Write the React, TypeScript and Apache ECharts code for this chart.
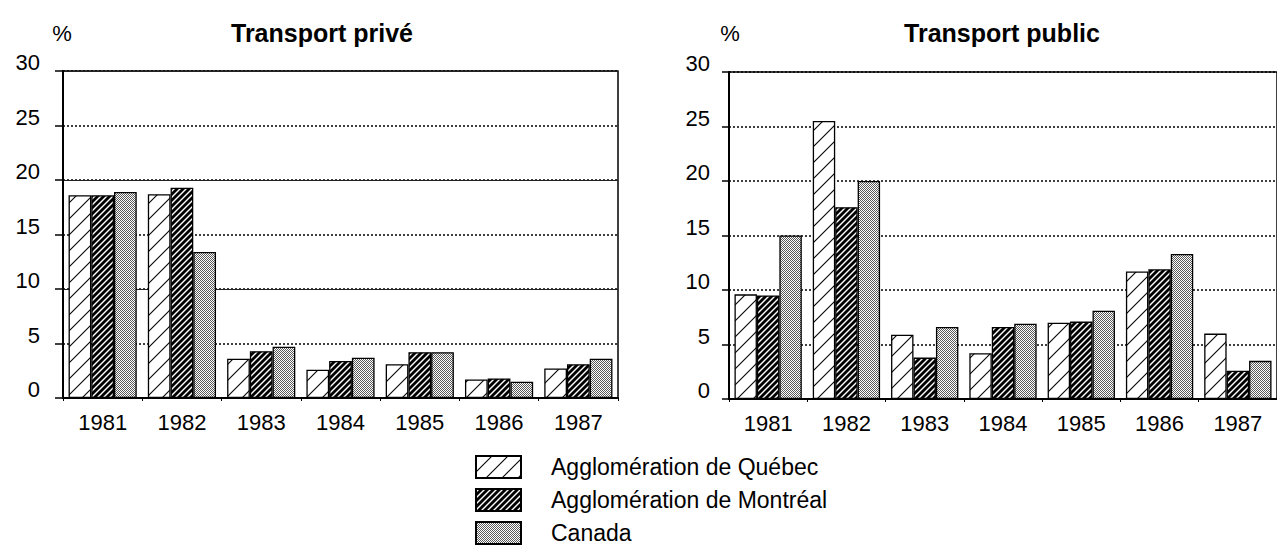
import React, { useEffect, useRef } from "react";
import * as echarts from "echarts";

const years = ["1981", "1982", "1983", "1984", "1985", "1986", "1987"];
const seriesNames = ["Agglomération de Québec", "Agglomération de Montréal", "Canada"];

const priveQuebec = [18.6, 18.7, 3.6, 2.6, 3.1, 1.7, 2.7];
const priveMontreal = [18.6, 19.3, 4.3, 3.4, 4.2, 1.8, 3.1];
const priveCanada = [18.9, 13.4, 4.7, 3.7, 4.2, 1.5, 3.6];

const publicQuebec = [9.6, 25.5, 5.9, 4.2, 7.0, 11.7, 6.0];
const publicMontreal = [9.5, 17.6, 3.8, 6.6, 7.1, 11.9, 2.6];
const publicCanada = [15.0, 20.0, 6.6, 6.9, 8.1, 13.3, 3.5];

const titles = ["Transport privé", "Transport public"];
const unitLabel = "%";
const yMin = 0;
const yMax = 30;
const yStep = 5;

const FONT = "'Liberation Sans', Arial, Helvetica, sans-serif";

function makePattern(kind: string) {
  const c = document.createElement("canvas");
  let w = 2, h = 2;
  if (kind === "q") { w = 16; h = 16; }
  if (kind === "m") { w = 6; h = 6; }
  c.width = w; c.height = h;
  const ctx = c.getContext("2d")!;
  ctx.fillStyle = "#fff";
  ctx.fillRect(0, 0, w, h);
  if (kind === "q") {
    ctx.strokeStyle = "#000";
    ctx.lineWidth = 1.1;
    for (const k of [0, 16, 32]) {
      ctx.beginPath();
      ctx.moveTo(k - 18, 18);
      ctx.lineTo(k + 2, -2);
      ctx.stroke();
    }
  } else if (kind === "m") {
    ctx.strokeStyle = "#000";
    ctx.lineWidth = 2.8;
    for (const k of [0, 6, 12]) {
      ctx.beginPath();
      ctx.moveTo(k - 7, 7);
      ctx.lineTo(k + 1, -1);
      ctx.stroke();
    }
  } else {
    ctx.fillStyle = "#5a5a5a";
    ctx.fillRect(0, 0, 1, 1);
    ctx.fillRect(1, 1, 1, 1);
  }
  return { image: c.toDataURL(), repeat: "repeat", imageWidth: w, imageHeight: h } as any;
}

export default function App() {
  const ref = useRef<HTMLDivElement>(null);
  useEffect(() => {
    if (!ref.current) return;
    const chart = echarts.init(ref.current, null, { renderer: "svg" });
    const pats = [makePattern("q"), makePattern("m"), makePattern("c")];
    const priveData = [priveQuebec, priveMontreal, priveCanada];
    const publicData = [publicQuebec, publicMontreal, publicCanada];

    const xAxisBase = (gridIndex: number) => ({
      gridIndex,
      type: "category",
      data: years,
      axisLine: { lineStyle: { color: "#000", width: 2 } },
      axisTick: { show: true, length: 3, lineStyle: { color: "#000" } },
      axisLabel: { color: "#000", fontFamily: FONT, fontSize: 22, margin: 13 },
      splitLine: { show: false },
    });

    const yLabel = (margin: number) => ({
      color: "#000",
      fontFamily: FONT,
      fontSize: 22,
      margin,
      verticalAlign: "bottom",
      lineHeight: 17,
    });

    const barSeries = (data: number[][], axisIdx: number, yIdx: number) =>
      data.map((vals, i) => ({
        name: seriesNames[i],
        type: "bar",
        xAxisIndex: axisIdx,
        yAxisIndex: yIdx,
        data: vals,
        barGap: "0%",
        barCategoryGap: "14%",
        itemStyle: { color: pats[i], borderColor: "#000", borderWidth: 1.3 },
      }));

    chart.setOption({
      animation: false,
      backgroundColor: "#fff",
      grid: [
        { left: 63, top: 71, width: 555, height: 327, show: true, borderColor: "#000", borderWidth: 1.5, backgroundColor: "transparent" },
        { left: 729, top: 72, width: 553, height: 327, show: true, borderColor: "#000", borderWidth: 1.5, backgroundColor: "transparent" },
      ],
      xAxis: [xAxisBase(0), xAxisBase(1)],
      yAxis: [
        {
          gridIndex: 0,
          type: "value",
          min: yMin,
          max: yMax,
          interval: yStep,
          position: "left",
          axisLine: { show: true, lineStyle: { color: "#000", width: 2 } },
          axisTick: { show: true, length: 8, lineStyle: { color: "#000", width: 1.5 } },
          axisLabel: yLabel(23),
          splitLine: { show: true, lineStyle: { color: "#000", width: 1.5, type: [2, 2] } },
        },
        {
          gridIndex: 0,
          type: "value",
          min: yMin,
          max: yMax,
          interval: yStep * 2,
          position: "left",
          axisLine: { show: false },
          axisTick: { show: false },
          axisLabel: { show: false },
          splitLine: { show: true, lineStyle: { color: "#222", width: 1 } },
        },
        {
          gridIndex: 1,
          type: "value",
          min: yMin,
          max: yMax,
          interval: yStep,
          position: "left",
          axisLine: { show: true, lineStyle: { color: "#000", width: 2 } },
          axisTick: { show: true, length: 7, lineStyle: { color: "#000", width: 1.5 } },
          axisLabel: yLabel(19),
          splitLine: { show: true, lineStyle: { color: "#000", width: 1.5, type: [2, 2] } },
        },
      ],
      legend: {
        data: seriesNames,
        orient: "vertical",
        left: 475,
        top: 455,
        width: 400,
        height: 120,
        padding: 0,
        itemWidth: 45,
        itemHeight: 22,
        itemGap: 9,
        icon: "rect",
        selectedMode: false,
        textStyle: { color: "#000", fontFamily: FONT, fontSize: 23, lineHeight: 22, padding: [0, 0, 0, 25] },
      },
      graphic: [
        { type: "text", x: 322, y: 33, style: { text: titles[0], font: `bold 25px ${FONT}`, fill: "#000", align: "center", verticalAlign: "middle" } },
        { type: "text", x: 1002, y: 33, style: { text: titles[1], font: `bold 25px ${FONT}`, fill: "#000", align: "center", verticalAlign: "middle" } },
        { type: "text", x: 62, y: 33, style: { text: unitLabel, font: `22px ${FONT}`, fill: "#000", align: "center", verticalAlign: "middle" } },
        { type: "text", x: 730, y: 33, style: { text: unitLabel, font: `22px ${FONT}`, fill: "#000", align: "center", verticalAlign: "middle" } },
      ],
      series: [...barSeries(priveData, 0, 0), ...barSeries(publicData, 1, 2)],
    } as any);
    return () => chart.dispose();
  }, []);
  return <div ref={ref} style={{ position: "absolute", left: 0, top: 0, width: 1277, height: 545 }} />;
}
